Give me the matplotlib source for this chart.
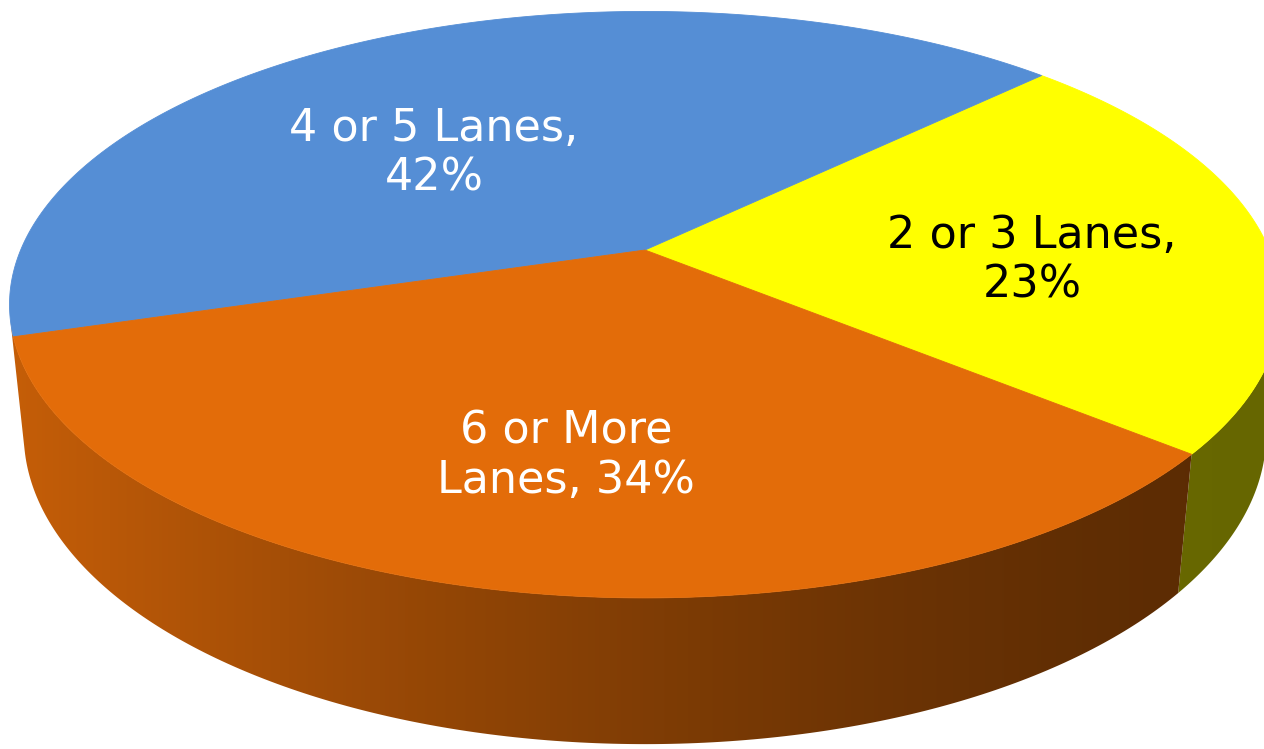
import textwrap
import numpy as np
import matplotlib.pyplot as plt
from matplotlib.patches import Polygon

# lane-count shares
names = ["2 or 3 Lanes", "4 or 5 Lanes", "6 or More Lanes"]
shares = [23, 42, 34]
colors = ["#ffff00", "#558ed5", "#e36c09"]
text_colors = ["black", "white", "white"]

# canvas / camera setup (pixels)
W, H = 1264, 749
CX, CY = 645, 250          # where the pie centre lands
TILT = np.radians(26.96)   # camera elevation
DIST = 4.781               # camera distance in pie radii
FOCAL = 2985.0
THICK = 0.2334             # pie height in pie radii
START = -39.5              # first slice starts here, counter-clockwise
label_pos = [(1032, 260), (434, 153), (566, 456)]

s, c = np.sin(TILT), np.cos(TILT)


def project(theta, z, r=1.0):
    x = r * np.cos(theta)
    y = r * np.sin(theta)
    up = z * c + y * s
    d = DIST + y * c - z * s
    return CX + FOCAL * x / d, CY - FOCAL * up / d


def shade(px):
    return 0.40 + 0.47 * ((W - px) / (W - 10.0)).clip(0, 1) ** 1.5


fig = plt.figure(figsize=(W / 100, H / 100), dpi=100)
ax = fig.add_axes([0, 0, 1, 1])
ax.set_xlim(0, W)
ax.set_ylim(H, 0)
ax.axis("off")

fracs = np.array(shares, dtype=float) / sum(shares)
edges = np.radians(START + 360 * np.concatenate([[0], np.cumsum(fracs)]))

# visible part of the rim (tangent points seen from the camera)
sil = np.arcsin(-1.0 / (DIST * c))
vis_lo, vis_hi = np.pi - sil, 2 * np.pi + sil
tiny = np.radians(5)

xs = np.arange(W) + 0.5
for i in range(len(shares)):
    a0, a1 = edges[i], edges[i + 1]
    for off in (0, 2 * np.pi, -2 * np.pi):
        lo, hi = max(a0 + off, vis_lo), min(a1 + off, vis_hi)
        if hi - lo < tiny:
            continue
        # let the neighbour cover slivers right at the silhouette
        if lo - vis_lo < tiny:
            lo = vis_lo
        if vis_hi - hi < tiny:
            hi = vis_hi
        t = np.linspace(lo, hi, 200)
        tx, ty = project(t, 0.0)
        bx, by = project(t[::-1], -THICK)
        side = Polygon(np.column_stack([np.r_[tx, bx], np.r_[ty, by]]),
                       closed=True, facecolor="none", edgecolor="none")
        ax.add_patch(side)
        base = np.array(plt.matplotlib.colors.to_rgb(colors[i]))
        grad = (shade(xs)[:, None] * base[None, :])[None, :, :]
        im = ax.imshow(grad, extent=(0, W, H, 0), aspect="auto",
                       interpolation="bilinear", zorder=1)
        im.set_clip_path(side)

# top faces
for i in range(len(shares)):
    t = np.linspace(edges[i], edges[i + 1], 300)
    tx, ty = project(t, 0.0)
    pts = np.column_stack([np.r_[CX, tx], np.r_[CY, ty]])
    ax.add_patch(Polygon(pts, closed=True, facecolor=colors[i],
                         edgecolor=colors[i], linewidth=0.6, zorder=2))

ax.set_xlim(0, W)
ax.set_ylim(H, 0)

for i in range(len(shares)):
    txt = textwrap.fill(f"{names[i]}, {shares[i]}%", width=13)
    ax.text(label_pos[i][0], label_pos[i][1], txt, color=text_colors[i],
            fontsize=32, ha="center", va="center", multialignment="center",
            family="DejaVu Sans", zorder=3)

fig.savefig("out.png", dpi=100)
